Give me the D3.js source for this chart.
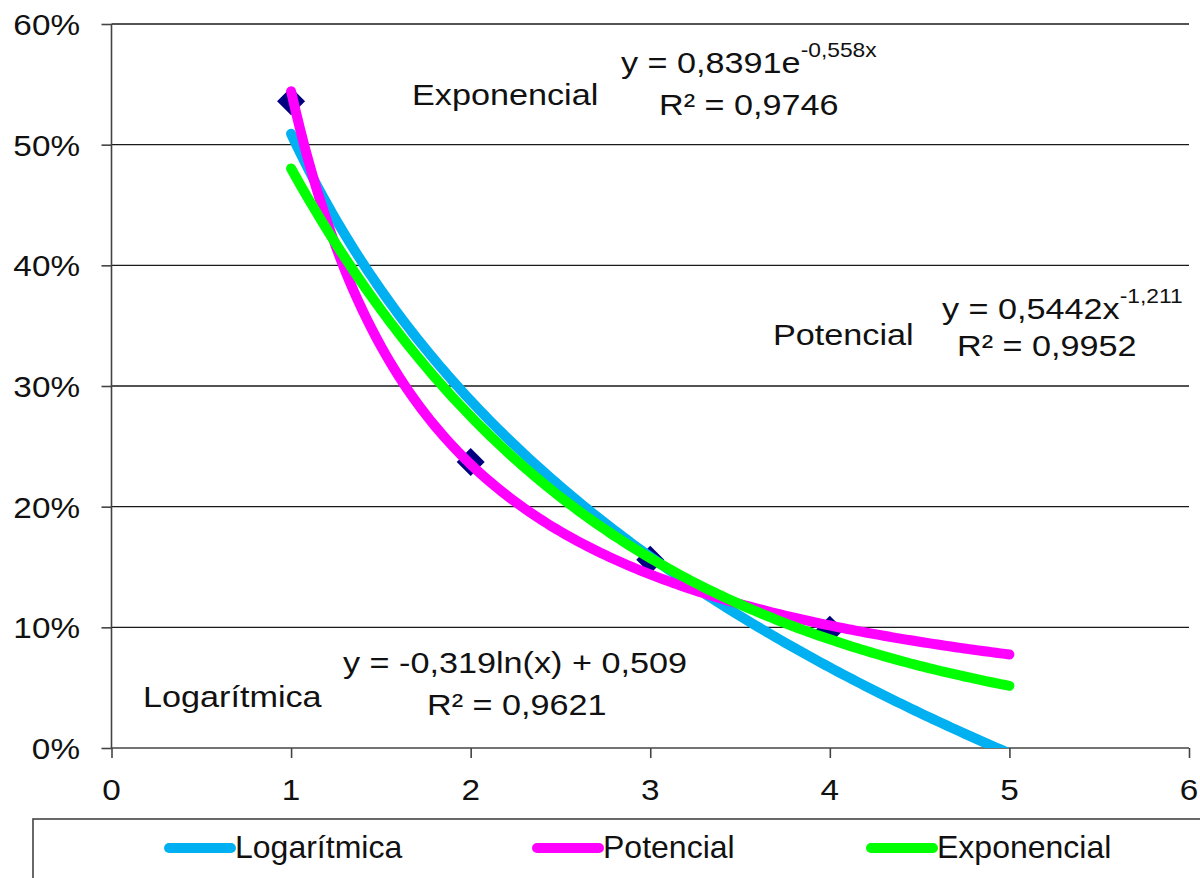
<!DOCTYPE html>
<html>
<head>
<meta charset="utf-8">
<script src="https://cdn.jsdelivr.net/npm/d3@7"></script>
<style>
  html, body { margin: 0; padding: 0; background: #fff; }
  svg { display: block; font-family: "Liberation Sans", Arial, sans-serif; }
</style>
</head>
<body>
<svg id="chart" width="1200" height="878"></svg>
<script>
// observed points (x, share)
var pointX = [1, 2, 3, 4];
var pointY = [0.536, 0.237, 0.156, 0.098];

// trendline names, colours and fitted coefficients as printed on the chart
var seriesNames = ["Logarítmica", "Potencial", "Exponencial"];
var seriesColors = ["#00b0f0", "#ff00ff", "#00ff00"];
var logCoef = [-0.319, 0.509];     // y = a ln(x) + b
var powCoef = [0.5442, -1.211];    // y = a x^b
var expCoef = [0.8391, -0.558];    // y = a e^(b x)
var rSquared = [0.9621, 0.9952, 0.9746];
var trendFrom = 1, trendTo = 5;

var xTicks = [0, 1, 2, 3, 4, 5, 6];
var yTicks = [0, 0.1, 0.2, 0.3, 0.4, 0.5, 0.6];

const svg = d3.select("#chart");
const pLeft = 111.5, pRight = 1189, pTop = 24, pBottom = 748;
const sx = 1.14;

var x = d3.scaleLinear().domain([0, 6]).range([pLeft, pRight]);
var y = d3.scaleLinear().domain([0, 0.6]).range([pBottom, pTop]);

svg.append("defs").append("clipPath").attr("id", "plot")
    .append("rect")
    .attr("x", pLeft).attr("y", pTop)
    .attr("width", pRight - pLeft).attr("height", pBottom - pTop);

// horizontal grid
svg.append("g")
    .selectAll("line")
    .data(yTicks.slice(1))
    .enter()
    .append("line")
    .attr("x1", pLeft).attr("x2", pRight)
    .attr("y1", d => y(d)).attr("y2", d => y(d))
    .attr("stroke", "#1a1a1a")
    .attr("stroke-width", 1.4);

// axes
var yAxis = svg.append("g")
    .attr("transform", "translate(" + pLeft + ",0)")
    .call(d3.axisLeft(y).tickValues(yTicks).tickSize(10).tickFormat(""));
var xAxis = svg.append("g")
    .attr("transform", "translate(0," + pBottom + ")")
    .call(d3.axisBottom(x).tickValues(xTicks).tickSize(10).tickFormat(""));
[yAxis, xAxis].forEach(a => {
    a.select(".domain").attr("stroke", "#444").attr("stroke-width", 1.6);
    a.selectAll(".tick line").attr("stroke", "#444").attr("stroke-width", 1.6);
});
// no outer tick stubs on the domain path
yAxis.select(".domain").attr("d", "M0," + pBottom + "V" + pTop);
xAxis.select(".domain").attr("d", "M" + pLeft + ",0H" + pRight);

// tick labels (text is slightly wide in the original)
svg.append("g")
    .selectAll("text")
    .data(yTicks)
    .enter()
    .append("text")
    .attr("transform", d => "translate(80," + (y(d) + 11) + ") scale(1.11,1)")
    .attr("text-anchor", "end")
    .attr("font-size", 30)
    .attr("fill", "#111")
    .text(d => d3.format(".0%")(d));

svg.append("g")
    .selectAll("text")
    .data(xTicks)
    .enter()
    .append("text")
    .attr("transform", d => "translate(" + x(d) + ",800) scale(1.11,1)")
    .attr("text-anchor", "middle")
    .attr("font-size", 30)
    .attr("fill", "#111")
    .text(d => d);

// data markers
var diamond = 14;
svg.append("g")
    .selectAll("path")
    .data(pointX.map((d, i) => [d, pointY[i]]))
    .enter()
    .append("path")
    .attr("transform", d => "translate(" + x(d[0]) + "," + y(d[1]) + ")")
    .attr("d", "M0," + (-diamond) + "L" + diamond + ",0L0," + diamond + "L" + (-diamond) + ",0Z")
    .attr("fill", "#000080");

// trendlines
var fits = [
    t => logCoef[0] * Math.log(t) + logCoef[1],
    t => powCoef[0] * Math.pow(t, powCoef[1]),
    t => expCoef[0] * Math.exp(expCoef[1] * t)
];
var samples = d3.range(trendFrom, trendTo + 0.0001, 0.025);
var line = d3.line().x(d => x(d[0])).y(d => y(d[1]));

svg.append("g")
    .attr("clip-path", "url(#plot)")
    .selectAll("path")
    .data(fits)
    .enter()
    .append("path")
    .attr("d", f => line(samples.map(t => [t, f(t)])))
    .attr("fill", "none")
    .attr("stroke", (f, i) => seriesColors[i])
    .attr("stroke-width", 10)
    .attr("stroke-linecap", "round")
    .attr("stroke-linejoin", "round");

// annotations
function note(px, py, parts) {
    var t = svg.append("text")
        .attr("transform", "translate(" + px + "," + py + ") scale(" + sx + ",1)")
        .attr("font-size", 30)
        .attr("fill", "#111");
    parts.forEach(p => {
        if (typeof p === "object") {
            t.append("tspan").attr("font-size", 20).attr("dy", -16).text(p.up);
        } else {
            t.append("tspan").text(p);
        }
    });
}

function fmt(v, n) { return d3.format("." + n + "f")(v).replace(".", ",").replace("−", "-"); }

note(412, 105, [seriesNames[2]]);
note(621, 73, ["y = " + fmt(expCoef[0], 4) + "e", {up: fmt(expCoef[1], 3) + "x"}]);
note(659, 115, ["R² = " + fmt(rSquared[2], 4)]);

note(773, 345, [seriesNames[1]]);
note(942, 319, ["y = " + fmt(powCoef[0], 4) + "x", {up: fmt(powCoef[1], 3)}]);
note(957, 356, ["R² = " + fmt(rSquared[1], 4)]);

note(143, 707, [seriesNames[0]]);
note(343, 673, ["y = " + fmt(logCoef[0], 3) + "ln(x) + " + fmt(logCoef[1], 3)]);
note(427, 715, ["R² = " + fmt(rSquared[0], 4)]);

// legend
svg.append("rect")
    .attr("x", 33).attr("y", 819)
    .attr("width", 1200).attr("height", 100)
    .attr("fill", "#fff")
    .attr("stroke", "#444")
    .attr("stroke-width", 1.6);

var legendX = [169, 537, 871];
var leg = svg.append("g")
    .selectAll("g")
    .data(seriesNames)
    .enter()
    .append("g")
    .attr("transform", (d, i) => "translate(" + legendX[i] + ",848)");
leg.append("line")
    .attr("x1", 0).attr("x2", 62)
    .attr("stroke", (d, i) => seriesColors[i])
    .attr("stroke-width", 10)
    .attr("stroke-linecap", "round");
leg.append("text")
    .attr("x", 66).attr("y", 10)
    .attr("font-size", 32)
    .attr("fill", "#111")
    .text(d => d);
</script>
</body>
</html>
